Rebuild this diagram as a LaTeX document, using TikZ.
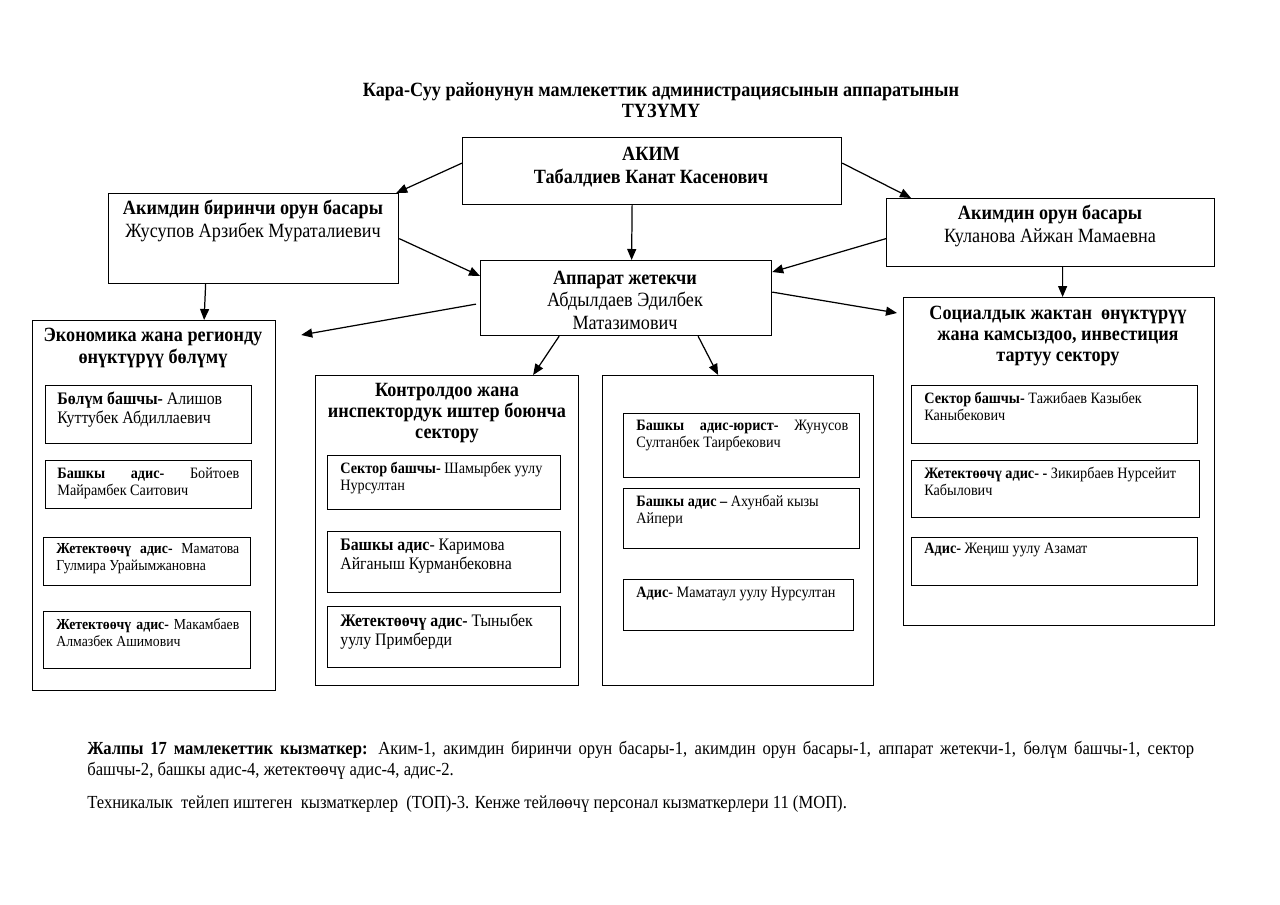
\documentclass[tikz,border=0pt]{standalone}
\usepackage{fontspec}
\setmainfont{Liberation Serif}[FakeStretch=0.9]
\usetikzlibrary{calc,arrows.meta}

\begin{document}
\begin{tikzpicture}[x=0.02cm,y=-0.02cm,
  box/.style={draw,line width=0.7pt,inner sep=0pt,anchor=north west},
  sz/.style 2 args={minimum width=#1*0.02cm,minimum height=#2*0.02cm},
  arr/.style={-{Triangle[length=2.2mm,width=1.8mm]},line width=0.7pt},
  head/.style={align=center,inner sep=0pt,font=\fontsize{11.5}{12.8}\selectfont},
  ttl/.style={align=center,inner sep=0pt,font=\fontsize{11.5}{12.2}\selectfont\bfseries},
  itxt/.style={anchor=north west,inner sep=0pt,align=justify,font=\fontsize{9}{9.8}\selectfont},
  itxts/.style={itxt,font=\fontsize{8.7}{9.8}\selectfont},
  itxtl/.style={itxt,font=\fontsize{10}{10.8}\selectfont}]
\fill[white] (0,0) rectangle (1280,905);
\useasboundingbox (0,0) rectangle (1280,905);

\node[ttl] (title) at (661,100) {Кара-Суу районунун мамлекеттик администрациясынын аппаратынын\\ТҮЗҮМҮ};

\node[box,sz={379}{67}] (akim) at (462,137) {};
\node[head,font=\fontsize{11.5}{13}\selectfont\bfseries] (akimt) at (651,167) {АКИМ\\Табалдиев Канат Касенович};
\node[box,sz={290}{90}] (fdep) at (108,193) {};
\node[head] (fdept) at (253,221) {\textbf{Акимдин биринчи орун басары}\\Жусупов Арзибек Мураталиевич};
\node[box,sz={328}{68}] (dep) at (886,198) {};
\node[head] (dept) at (1050,226) {\textbf{Акимдин орун басары}\\Куланова Айжан Мамаевна};
\node[box,sz={291}{75}] (app) at (480,260) {};
\node[head] (appt) at (625,300) {\textbf{Аппарат жетекчи}\\Абдылдаев Эдилбек\\Матазимович};

\node[box,sz={243}{370}] (econ) at (32,320) {};
\node[ttl] (econt) at (153,348) {Экономика жана регионду\\өнүктүрүү бөлүмү};
\node[box,sz={206}{58}] (e1) at (45,385) {};
\node[itxtl,text width=3.64cm] (e1t) at (57,392) {\textbf{Бөлүм башчы-} Алишов\\Куттубек Абдиллаевич};
\node[box,sz={206}{48}] (e2) at (45,460) {};
\node[itxt,text width=3.64cm] (e2t) at (57,467) {\textbf{Башкы адис-} Бойтоев\linebreak Майрамбек Саитович};
\node[box,sz={207}{48}] (e3) at (43,537) {};
\node[itxts,text width=3.66cm] (e3t) at (56,543) {\textbf{Жетектөөчү адис-} Маматова\linebreak Гулмира Урайымжановна};
\node[box,sz={207}{57}] (e4) at (43,611) {};
\node[itxts,text width=3.66cm] (e4t) at (56,618) {\textbf{Жетектөөчү адис-} Макамбаев\linebreak Алмазбек Ашимович};

\node[box,sz={263}{310}] (ctrl) at (315,375) {};
\node[ttl] (ctrlt) at (447,413) {Контролдоо жана\\инспектордук иштер боюнча\\сектору};
\node[box,sz={233}{54}] (c1) at (327,455) {};
\node[itxt,text width=4.16cm] (c1t) at (340,462) {\textbf{Сектор башчы-} Шамырбек уулу\\Нурсултан};
\node[box,sz={233}{61}] (c2) at (327,531) {};
\node[itxtl,text width=4.16cm] (c2t) at (340,539) {\textbf{Башкы адис}- Каримова\\Айганыш Курманбековна};
\node[box,sz={233}{61}] (c3) at (327,606) {};
\node[itxtl,text width=4.16cm] (c3t) at (340,614) {\textbf{Жетектөөчү адис-} Тыныбек\\уулу Примберди};

\node[box,sz={271}{310}] (mid) at (602,375) {};
\node[box,sz={236}{64}] (m1) at (623,413) {};
\node[itxt,text width=4.24cm] (m1t) at (636,420) {\textbf{Башкы адис-юрист-} Жунусов\linebreak Султанбек Таирбекович};
\node[box,sz={236}{60}] (m2) at (623,488) {};
\node[itxt,text width=4.24cm] (m2t) at (636,495) {\textbf{Башкы адис –} Ахунбай кызы\\Айпери};
\node[box,sz={230}{51}] (m3) at (623,579) {};
\node[itxt,text width=4.24cm] (m3t) at (636,587) {\textbf{Адис}- Маматаул уулу Нурсултан};

\node[box,sz={311}{328}] (soc) at (903,297) {};
\node[ttl] (soct) at (1058,336) {Социалдык жактан\ \ өнүктүрүү\\жана камсыздоо, инвестиция\\тартуу сектору};
\node[box,sz={286}{58}] (s1) at (911,385) {};
\node[itxt,text width=5.2cm] (s1t) at (924,392) {\textbf{Сектор башчы-} Тажибаев Казыбек\\Каныбекович};
\node[box,sz={288}{57}] (s2) at (911,460) {};
\node[itxt,text width=5.2cm] (s2t) at (924,467) {\textbf{Жетектөөчү адис- -} Зикирбаев Нурсейит\\Кабылович};
\node[box,sz={286}{48}] (s3) at (911,537) {};
\node[itxt,text width=5.2cm] (s3t) at (924,543) {\textbf{Адис-} Жеңиш уулу Азамат};

\draw[arr] ($(akim.west)+(0,-8)$) -- ($(fdep.north east)+(-3,0)$);
\draw[arr] ($(akim.east)+(0,-8)$) -- ($(dep.north west)+(25,0)$);
\draw[arr] ($(akim.south)+(-20,0)$) -- ($(app.north)+(5.5,0)$);
\draw[arr] (fdep.east) -- ($(app.north west)+(0,16)$);
\draw[arr] ($(dep.west)+(0,6)$) -- ($(app.north east)+(0,12)$);
\draw[arr] ($(dep.south)+(12,0)$) -- ($(soc.north)+(3.5,0)$);
\draw[arr] ($(fdep.south)+(-48,0)$) -- ($(econ.north)+(50,0)$);
\draw[arr] ($(app.west)+(-4,6)$) -- ($(econ.north east)+(25,15)$);
\draw[arr] ($(app.east)+(0,-6)$) -- ($(soc.north west)+(-6,16)$);
\draw[arr] ($(app.south)+(-67,0)$) -- ($(ctrl.north)+(86,0)$);
\draw[arr] ($(app.south)+(72,0)$) -- ($(mid.north)+(-20,0)$);

\node[anchor=north west,inner sep=0pt,text width=22.14cm,align=justify,font=\fontsize{10.5}{11.9}\selectfont] (note) at (87,741) {\textbf{Жалпы 17 мамлекеттик кызматкер:} Аким-1, акимдин биринчи орун басары-1, акимдин орун басары-1, аппарат жетекчи-1, бөлүм башчы-1, сектор\linebreak башчы-2, башкы адис-4, жетектөөчү адис-4, адис-2.};
\node[anchor=north west,inner sep=0pt,font=\fontsize{10.5}{11.9}\selectfont] (note2) at (87,795) {Техникалык\ \ тейлеп иштеген\ \ кызматкерлер\ \ (ТОП)-3. Кенже тейлөөчү персонал кызматкерлери 11 (МОП).};
\end{tikzpicture}
\end{document}
